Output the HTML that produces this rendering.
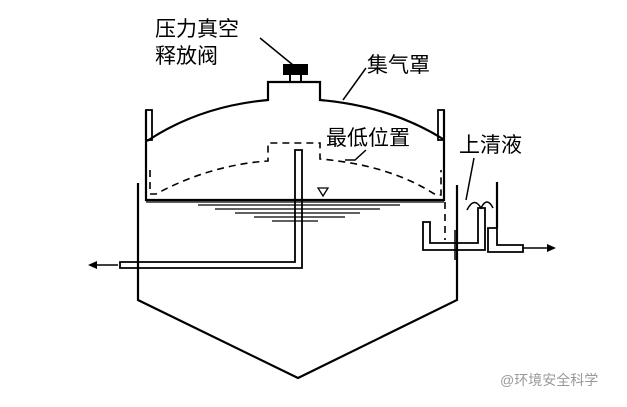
<!DOCTYPE html>
<html><head><meta charset="utf-8"><style>
body{margin:0;background:#fff;width:627px;height:402px;overflow:hidden}
text{font-family:"Liberation Sans","Noto Sans CJK SC",sans-serif}
</style></head><body>
<svg width="627" height="402" viewBox="0 0 627 402" xmlns="http://www.w3.org/2000/svg">
<g fill="none" stroke="#000" stroke-width="2.2">
<!-- tank -->
<path d="M138 183 V300 L298 378 L457 300 V185"/>
<!-- hood -->
<path d="M146 110 V200 H444 V110"/>
<rect x="146" y="110" width="6" height="30" stroke-width="1.8"/>
<rect x="438" y="110" width="6" height="30" stroke-width="1.8"/>
<path d="M147 141 Q200 106 268 100 V82 H320 V100 Q390 106 443 139"/>
<!-- dashed -->
<path stroke-width="1.6" stroke-dasharray="7,5" d="M150 170 V194 H156 Q210 165 268 161 V143 H320 V159 Q390 165 436 195 H441 V170"/>
<path stroke-width="1.6" stroke-dasharray="7,5" d="M445 202 V240"/>
<!-- pipe -->
<path stroke-width="1.8" d="M295 150 H302 V268 H120 V262 H295 Z"/>
<!-- right trough -->
<path stroke-width="1.8" d="M423 222 H430 V243 H478 V208 H485 V250 H423 Z"/>
<path d="M497 182 V228"/>
<path stroke-width="1.8" d="M488 228 H497 V245 H523 V252 H488 Z"/>
<path stroke-width="1.5" d="M455 230 V260"/>
<!-- leaders -->
<path stroke-width="1.5" d="M260 38 L293 65 M366 68 L343 100 M366 150 L355 160 H345 M474 158 L466 200"/>
<path stroke-width="1.5" d="M467 210 Q474 196 481 208 Q487 196 493 208"/>
</g>
<!-- arrows -->
<path d="M118 265 H92" stroke="#000" stroke-width="1.5"/><path d="M88 265 L97 261 L97 269 Z"/>
<path d="M523 248 H550" stroke="#000" stroke-width="1.5"/><path d="M556 248 L547 244 L547 252 Z"/>
<!-- valve -->
<rect x="283" y="64" width="25" height="11" fill="#000"/>
<path d="M290 75 V82 M301 75 V82" stroke="#000" stroke-width="2"/>
<!-- water -->
<g stroke="#000" stroke-width="1.3">
<path d="M146 202 H444"/>
<path d="M198 205 H400 M215 209 H380 M235 213 H360 M254 217 H345 M272 221 H318"/>
</g>
<path d="M318 188 H328 L323 196 Z" fill="none" stroke="#000" stroke-width="1.3"/>
<!-- labels -->
<g font-size="21" fill="#000">
<text x="155" y="36">压力真空</text>
<text x="155" y="63">释放阀</text>
<text x="367" y="72">集气罩</text>
<text x="326" y="145">最低位置</text>
<text x="459" y="152">上清液</text>
</g>
<text x="500" y="385" font-size="14" fill="#999">@环境安全科学</text>
</svg>
</body></html>
